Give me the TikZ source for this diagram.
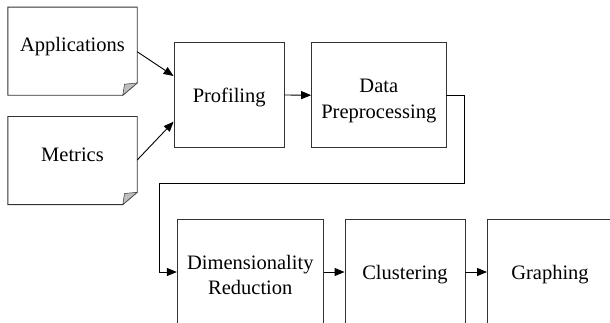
\documentclass[tikz,border=0pt]{standalone}
\usepackage{fontspec}
\setmainfont{Liberation Serif}
\usetikzlibrary{arrows.meta,calc}
\newcommand\bxt[2][-2.5pt]{\raisebox{#1}[\height][\depth]{\begin{tabular}{@{}c@{}}#2\end{tabular}}}
\begin{document}
\begin{tikzpicture}[x=1pt,y=-1pt,
  every node/.style={font=\fontsize{20.5}{25.5}\selectfont},
  procbox/.style={draw=black!80,line width=0.9pt,rectangle,inner sep=0pt,minimum height=105.4pt},
  docnode/.style={rectangle,inner sep=0pt,minimum width=129pt,minimum height=87.7pt,text height=14pt,text depth=13pt},
  docline/.style={draw=black!80,line width=0.9pt,line join=miter},
  foldfill/.style={fill=black!25,draw=black!70,line width=0.6pt},
  conn/.style={draw=black,line width=0.9pt,-{Triangle[length=10pt,width=8pt]}}]
\useasboundingbox (0,0) rectangle (610,322);
\clip (0,0) rectangle (610,322);
% document shapes
\node[docnode] (app) at (72.5,51.2) {Applications};
\node[docnode] (met) at (72.5,160.5) {Metrics};
\foreach \d in {app,met}{
  \draw[docline] (\d.north west) -- (\d.north east) -- ($(\d.south east)+(0,-12.3)$) -- ($(\d.south east)+(-14.4,0)$) -- (\d.south west) -- cycle;
  \draw[foldfill] ($(\d.south east)+(-14.4,0)$) -- ($(\d.south east)+(-12.7,-11)$) -- ($(\d.south east)+(0,-12.3)$) -- cycle;
}
% process boxes
\node[procbox,minimum width=110.3pt] (prof) at (229.2,95) {\bxt{Profiling}};
\node[procbox,minimum width=134.3pt] (dp) at (378.8,95.2) {\bxt[-5pt]{Data\\Preprocessing}};
\node[procbox,minimum width=146pt] (dr) at (250.3,272) {\bxt[-5pt]{Dimensionality\\Reduction}};
\node[procbox,minimum width=120pt] (clu) at (405,272) {\bxt{Clustering}};
\node[procbox,minimum width=125pt] (gra) at (550,272) {\bxt{Graphing}};
% connectors
\draw[conn] (app.east |- 0,51.7) -- (prof.west |- 0,76);
\draw[conn] (met.east |- 0,160) -- (prof.west |- 0,121.7);
\draw[conn] (prof.east) -- (dp.west);
\coordinate (l1) at (464.3,183.3);
\coordinate (l2) at (159,183.3);
\draw[conn] (dp.east) -| (l1) -- (l2) |- (dr.west);
\draw[conn] (dr.east) -- (clu.west);
\draw[conn] (clu.east) -- (gra.west);
\end{tikzpicture}
\end{document}
